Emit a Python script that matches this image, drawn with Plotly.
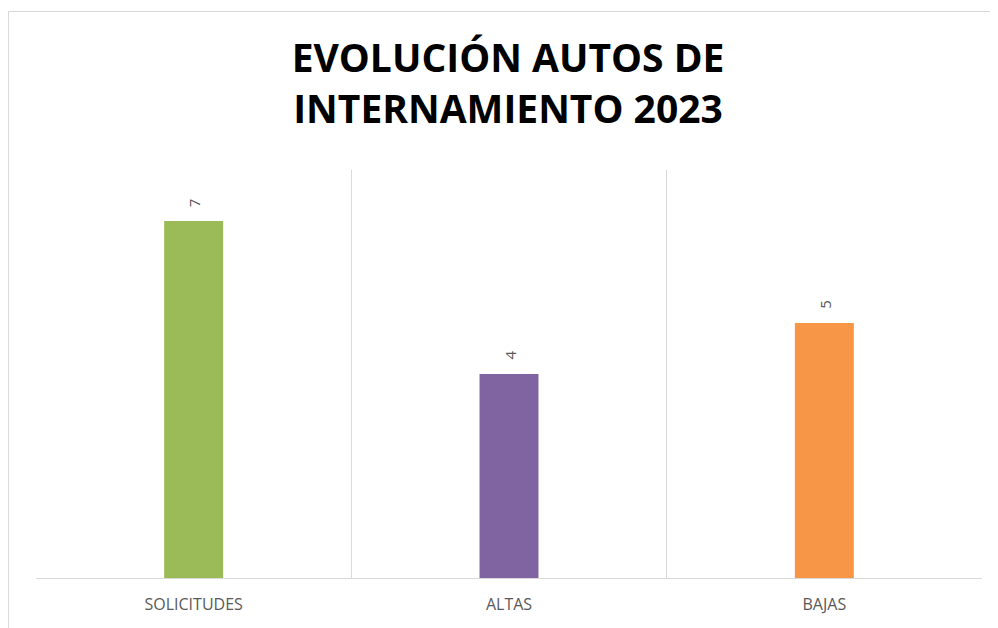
import plotly.graph_objects as go

categories = ["SOLICITUDES", "ALTAS", "BAJAS"]
values = [7, 4, 5]
colors = ["#9BBB59", "#8064A2", "#F79646"]
title_text = "EVOLUCIÓN AUTOS DE<br>INTERNAMIENTO 2023"

# page body has an 8px default margin, so the figure is drawn at (8, 8)
OFF = 8
W, H = 998 - OFF, 628 - OFF
ml, mr, mt, mb = 36 - OFF, 16, 170 - OFF, 50

fig = go.Figure()
fig.add_trace(go.Bar(
    x=categories, y=values, marker=dict(color=colors, line=dict(width=0)),
    width=0.187, hoverinfo="skip",
))

for c, v in zip(categories, values):
    fig.add_annotation(x=c, y=v, text=str(v), showarrow=False, textangle=-90,
                       yanchor="bottom", xanchor="center", yshift=12,
                       font=dict(family="Open Sans", size=15, color="#595959"))

pw = W - ml - mr
ph = H - mt - mb
fig.add_shape(type="rect", xref="paper", yref="paper",
              x0=(0.5 - ml) / pw, x1=1.05, y0=-0.3, y1=(H - mb - 3.5) / ph,
              line=dict(color="#D9D9D9", width=1), fillcolor="rgba(0,0,0,0)", layer="below")

fig.update_layout(
    width=W, height=H,
    margin=dict(l=ml, r=mr, t=mt, b=mb),
    paper_bgcolor="white", plot_bgcolor="white",
    showlegend=False,
    title=dict(text=title_text, x=(508 - OFF) / W, xanchor="center", y=1 - (72 - OFF) / H, yanchor="middle",
               font=dict(family="Open Sans", size=39, color="#000000", weight="bold")),
    xaxis=dict(type="category", tickson="boundaries", showgrid=True, gridcolor="#D9D9D9",
               gridwidth=1, showline=True, linecolor="#D9D9D9", linewidth=1, ticks="",
               tickfont=dict(family="Open Sans", size=16, color="#595959"), ticklabelstandoff=12,
               range=[-0.5, 2.5], zeroline=False),
    yaxis=dict(range=[0, 8], visible=False, showgrid=False, zeroline=False),
)

fig.write_html("out.html")
